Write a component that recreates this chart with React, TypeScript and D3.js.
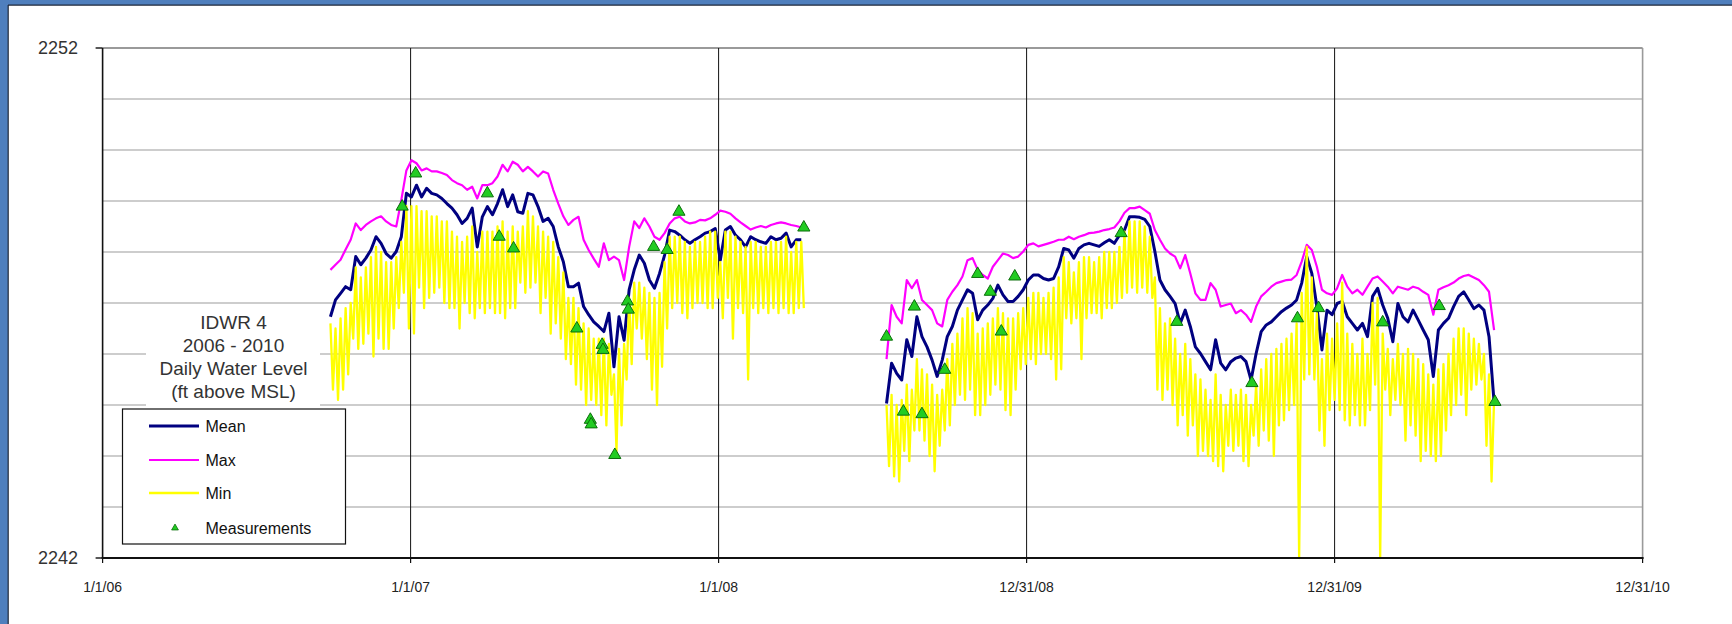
import React from "react";
import * as d3 from "d3";

// daily water level, IDWR 4 (ft above MSL)
// mean/max sampled every 6 days, min every 3 days
const seg1Start = "2006-09-28";
const seg2Start = "2008-07-18";

const meanSeg1 = [
  2246.73, 2247.06, 2247.19, 2247.32, 2247.26, 2247.91, 2247.75, 2247.88, 2248.04, 2248.3,
  2248.17, 2247.97, 2247.88, 2248.01, 2248.3, 2249.15, 2249.08, 2249.31, 2249.08, 2249.25,
  2249.15, 2249.12, 2249.05, 2248.95, 2248.86, 2248.73, 2248.56, 2248.66, 2248.86, 2248.1,
  2248.69, 2248.89, 2248.73, 2248.95, 2249.22, 2248.89, 2249.12, 2248.79, 2248.76, 2249.15,
  2249.12, 2248.89, 2248.6, 2248.66, 2248.5, 2248.1, 2247.81, 2247.32, 2247.32, 2247.39,
  2246.93, 2246.77, 2246.63, 2246.54, 2246.44, 2246.8, 2245.75, 2246.73, 2246.27, 2247.26,
  2247.65, 2247.94, 2247.78, 2247.45, 2247.29, 2247.58, 2247.94, 2248.43, 2248.4, 2248.33,
  2248.24, 2248.17, 2248.24, 2248.3, 2248.37, 2248.4, 2248.46, 2247.84, 2248.43, 2248.5,
  2248.33, 2248.24, 2248.1, 2248.3, 2248.24, 2248.2, 2248.17, 2248.3, 2248.24, 2248.27,
  2248.37, 2248.1, 2248.24, 2248.24,
];

const maxSeg1 = [
  2247.65, 2247.75, 2247.85, 2248.05, 2248.24, 2248.56, 2248.43, 2248.53, 2248.6, 2248.66,
  2248.7, 2248.6, 2248.53, 2248.5, 2249.02, 2249.6, 2249.8, 2249.74, 2249.6, 2249.64,
  2249.58, 2249.58, 2249.55, 2249.51, 2249.41, 2249.35, 2249.31, 2249.22, 2249.28, 2249.05,
  2249.31, 2249.31, 2249.35, 2249.48, 2249.71, 2249.58, 2249.77, 2249.71, 2249.58, 2249.67,
  2249.58, 2249.48, 2249.58, 2249.54, 2249.22, 2248.95, 2248.7, 2248.53, 2248.63, 2248.69,
  2248.24, 2248.04, 2247.87, 2247.71, 2248.17, 2247.84, 2247.91, 2247.84, 2247.45, 2248.1,
  2248.6, 2248.47, 2248.66, 2248.5, 2248.3, 2248.24, 2248.37, 2248.56, 2248.66, 2248.69,
  2248.6, 2248.56, 2248.58, 2248.63, 2248.62, 2248.66, 2248.73, 2248.81, 2248.79, 2248.75,
  2248.66, 2248.58, 2248.51, 2248.44, 2248.48, 2248.51, 2248.48, 2248.53, 2248.56, 2248.58,
  2248.56, 2248.53, 2248.51, 2248.48,
];

const minSeg1 = [
  2246.6, 2245.3, 2246.5, 2245.1, 2246.7, 2245.3, 2246.9, 2245.6, 2247.0, 2246.3,
  2247.7, 2246.1, 2247.5, 2246.2, 2247.7, 2246.4, 2247.9, 2245.95, 2248.1, 2246.3,
  2248.0, 2246.1, 2247.8, 2246.1, 2247.8, 2246.5, 2247.9, 2246.9, 2248.2, 2247.2,
  2248.9, 2246.5, 2248.9, 2246.4, 2248.9, 2247.3, 2248.8, 2246.9, 2248.8, 2247.1,
  2248.7, 2247.2, 2248.7, 2247.3, 2248.6, 2247.0, 2248.6, 2246.9, 2248.4, 2246.9,
  2248.3, 2246.5, 2248.2, 2247.0, 2248.3, 2246.8, 2248.5, 2246.7, 2248.0, 2246.9,
  2248.4, 2246.8, 2248.4, 2246.9, 2248.4, 2246.8, 2248.5, 2246.8, 2248.6, 2246.7,
  2248.4, 2246.9, 2248.5, 2246.9, 2248.4, 2247.4, 2248.5, 2247.2, 2248.8, 2247.3,
  2248.7, 2247.4, 2248.5, 2246.8, 2248.4, 2247.1, 2248.3, 2246.4, 2248.2, 2246.6,
  2247.9, 2246.3, 2247.6, 2245.9, 2247.1, 2245.8, 2247.1, 2245.4, 2246.9, 2245.3,
  2246.6, 2245.0, 2246.5, 2245.1, 2246.3, 2245.0, 2246.3, 2244.8, 2246.3, 2244.6,
  2246.2, 2245.2, 2245.6, 2244.1, 2246.1, 2244.6, 2246.2, 2245.5, 2247.1, 2245.8,
  2247.4, 2246.5, 2247.4, 2246.3, 2247.3, 2245.9, 2247.2, 2245.3, 2247.1, 2245.0,
  2247.2, 2245.75, 2247.8, 2246.5, 2248.3, 2246.9, 2248.3, 2247.0, 2248.3, 2246.8,
  2248.2, 2246.7, 2248.1, 2246.9, 2248.2, 2247.0, 2248.2, 2247.0, 2248.3, 2246.9,
  2248.4, 2246.9, 2248.4, 2247.1, 2247.8, 2246.7, 2248.4, 2247.1, 2248.4, 2246.3,
  2248.3, 2246.9, 2248.2, 2246.8, 2248.1, 2245.5, 2248.2, 2246.9, 2248.2, 2246.8,
  2248.1, 2246.9, 2248.1, 2246.8, 2248.2, 2246.9, 2248.2, 2246.8, 2248.2, 2246.9,
  2248.3, 2246.8, 2248.0, 2246.8, 2248.2, 2246.9, 2248.2, 2246.9,
];

const meanSeg2 = [
  2245.03, 2245.82, 2245.62, 2245.49, 2246.28, 2245.95, 2246.73, 2246.34, 2246.14, 2245.88,
  2245.56, 2245.88, 2246.34, 2246.54, 2246.86, 2247.06, 2247.26, 2247.19, 2246.67, 2246.86,
  2246.96, 2247.09, 2247.35, 2247.16, 2247.03, 2247.03, 2247.13, 2247.26, 2247.45, 2247.55,
  2247.55, 2247.48, 2247.45, 2247.48, 2247.71, 2248.07, 2248.04, 2247.88, 2248.07, 2248.14,
  2248.17, 2248.14, 2248.11, 2248.18, 2248.24, 2248.17, 2248.33, 2248.43, 2248.69, 2248.69,
  2248.68, 2248.64, 2248.5, 2248.01, 2247.45, 2247.26, 2247.13, 2246.99, 2246.6, 2246.86,
  2246.54, 2246.14, 2246.01, 2245.85, 2245.69, 2246.28, 2245.82, 2245.69, 2245.85, 2245.92,
  2245.95, 2245.85, 2245.49, 2246.01, 2246.44, 2246.57, 2246.63, 2246.73, 2246.83, 2246.9,
  2246.96, 2247.06, 2247.39, 2247.91, 2247.58, 2246.93, 2246.08, 2246.86, 2246.77, 2246.99,
  2247.03, 2246.73, 2246.6, 2246.47, 2246.6, 2246.34, 2247.13, 2247.29, 2246.96, 2246.7,
  2246.24, 2246.99, 2246.73, 2246.63, 2246.86, 2246.67, 2246.47, 2246.28, 2245.56, 2246.47,
  2246.6, 2246.7, 2246.93, 2247.13, 2247.22, 2247.06, 2246.89, 2246.96, 2246.86, 2246.34,
  2245.05,
];

const maxSeg2 = [
  2245.9, 2246.96, 2246.73, 2246.6, 2247.45, 2247.29, 2247.45, 2247.06, 2246.96, 2246.86,
  2246.6, 2246.54, 2247.06, 2247.22, 2247.35, 2247.52, 2247.84, 2247.88, 2247.65, 2247.55,
  2247.48, 2247.71, 2247.84, 2247.97, 2247.94, 2247.88, 2247.91, 2248.01, 2248.14, 2248.17,
  2248.11, 2248.14, 2248.17, 2248.2, 2248.24, 2248.24, 2248.3, 2248.25, 2248.3, 2248.33,
  2248.37, 2248.38, 2248.4, 2248.43, 2248.45, 2248.48, 2248.6, 2248.77, 2248.86, 2248.86,
  2248.89, 2248.82, 2248.75, 2248.43, 2248.24, 2248.07, 2247.97, 2247.91, 2247.68, 2247.94,
  2247.58, 2247.19, 2247.06, 2247.06, 2247.39, 2247.26, 2246.93, 2246.96, 2246.99, 2246.8,
  2246.86, 2246.77, 2246.63, 2246.93, 2247.13, 2247.22, 2247.32, 2247.39, 2247.42, 2247.45,
  2247.46, 2247.55, 2247.81, 2248.14, 2248.04, 2247.71, 2247.26, 2247.19, 2247.16, 2247.29,
  2247.55, 2247.32, 2247.19, 2247.26, 2247.16, 2247.32, 2247.48, 2247.52, 2247.42, 2247.32,
  2247.19, 2247.32, 2247.29, 2247.26, 2247.32, 2247.29, 2247.22, 2247.16, 2246.77, 2247.26,
  2247.31, 2247.35, 2247.4, 2247.48, 2247.53, 2247.55, 2247.5, 2247.45, 2247.35, 2247.22,
  2246.47,
];

const minSeg2 = [
  2245.0, 2243.8, 2245.2, 2243.6, 2245.0, 2243.5, 2245.1, 2244.1, 2245.4, 2243.9,
  2245.3, 2244.5, 2245.9, 2244.5, 2245.7, 2244.3, 2245.6, 2244.0, 2245.4, 2243.7,
  2245.2, 2244.2, 2245.3, 2244.5, 2245.9, 2244.6, 2246.2, 2245.0, 2246.4, 2245.2,
  2246.7, 2245.1, 2246.9, 2245.3, 2246.8, 2244.8, 2246.4, 2244.8, 2246.5, 2245.0,
  2246.6, 2245.2, 2246.7, 2245.4, 2246.9, 2245.3, 2246.8, 2244.9, 2246.7, 2244.8,
  2246.7, 2245.3, 2246.8, 2245.7, 2246.9, 2245.8, 2247.1, 2245.9, 2247.2, 2245.8,
  2247.2, 2246.0, 2247.1, 2246.0, 2247.2, 2245.9, 2247.3, 2245.5, 2247.5, 2245.7,
  2247.9, 2246.7, 2247.8, 2246.6, 2247.6, 2246.7, 2247.8, 2245.9, 2247.9, 2246.7,
  2247.9, 2246.8, 2247.8, 2246.8, 2247.9, 2246.7, 2248.0, 2246.9, 2248.0, 2246.9,
  2248.0, 2247.0, 2248.1, 2247.1, 2248.4, 2247.2, 2248.6, 2247.3, 2248.6, 2247.2,
  2248.6, 2247.3, 2248.5, 2247.2, 2248.3, 2247.1, 2247.5, 2245.3, 2246.9, 2245.1,
  2246.6, 2245.3, 2246.7, 2245.0, 2246.3, 2244.6, 2246.0, 2244.8, 2246.2, 2244.4,
  2245.9, 2244.6, 2245.6, 2244.0, 2245.5, 2244.1, 2245.3, 2244.0, 2245.1, 2243.9,
  2245.6, 2243.8, 2245.2, 2243.7, 2245.0, 2244.2, 2245.3, 2244.1, 2245.2, 2244.2,
  2245.3, 2243.9, 2245.2, 2243.8, 2245.0, 2244.4, 2245.4, 2244.2, 2245.7, 2244.5,
  2245.9, 2244.3, 2246.0, 2244.0, 2246.1, 2244.6, 2246.2, 2244.7, 2246.3, 2244.9,
  2246.4, 2245.0, 2246.6, 2242.0, 2247.2, 2245.5, 2248.1, 2245.6, 2247.5, 2245.5,
  2246.8, 2244.5, 2245.9, 2244.2, 2246.4, 2244.9, 2246.3, 2245.1, 2246.6, 2244.9,
  2247.4, 2244.7, 2246.4, 2244.6, 2246.2, 2244.8, 2246.0, 2244.6, 2246.3, 2244.6,
  2246.0, 2244.9, 2247.0, 2245.4, 2247.1, 2242.0, 2246.4, 2245.3, 2246.1, 2244.8,
  2245.9, 2245.1, 2246.2, 2245.0, 2246.0, 2244.3, 2246.1, 2244.6, 2246.0, 2244.4,
  2245.9, 2243.9, 2245.8, 2244.1, 2245.6, 2244.0, 2245.4, 2243.9, 2245.7, 2244.0,
  2245.8, 2244.5, 2246.0, 2244.8, 2246.3, 2245.0, 2246.5, 2245.2, 2246.5, 2244.8,
  2246.4, 2245.3, 2246.3, 2245.4, 2246.2, 2245.5, 2246.0, 2244.2, 2245.6, 2243.5,
  2245.1,
];

const measurementDates = [
  "2006-12-22", "2007-01-07", "2007-04-02", "2007-04-16", "2007-05-03", "2007-07-17",
  "2007-08-02", "2007-08-03", "2007-08-16", "2007-08-17", "2007-08-31", "2007-09-15",
  "2007-09-16", "2007-10-16", "2007-11-01", "2007-11-15", "2008-04-11", "2008-07-18",
  "2008-08-07", "2008-08-20", "2008-08-29", "2008-09-25", "2008-11-03", "2008-11-18",
  "2008-12-01", "2008-12-17", "2009-04-22", "2009-06-27", "2009-09-24", "2009-11-17",
  "2009-12-12", "2010-02-26", "2010-05-04", "2010-07-09",
];
const measurementValues = [
  2248.89, 2249.54, 2249.15, 2248.3, 2248.07, 2246.5,
  2244.71, 2244.62, 2246.18, 2246.08, 2244.02, 2247.03,
  2246.87, 2248.1, 2248.04, 2248.79, 2248.48, 2246.34,
  2244.87, 2246.93, 2244.82, 2245.69, 2247.57, 2247.22,
  2246.44, 2247.52, 2248.37, 2246.63, 2245.43, 2246.7,
  2246.9, 2246.62, 2246.94, 2245.06,
];

const tickDates = ["2006-01-01", "2007-01-01", "2008-01-01", "2008-12-31", "2009-12-31", "2010-12-31"];
const tickLabels = ["1/1/06", "1/1/07", "1/1/08", "12/31/08", "12/31/09", "12/31/10"];
const yTickValues = [2242, 2252];
const titleLines = ["IDWR 4", "2006 - 2010", "Daily Water Level", "(ft above MSL)"];
const legendNames = ["Mean", "Max", "Min", "Measurements"];

const W = 1732;
const H = 624;
const FONT = "Arial, 'Liberation Sans', sans-serif";
const parse = d3.utcParse("%Y-%m-%d");

type Pt = [Date, number];

function toPoints(start: string, step: number, vals: number[]): Pt[] {
  const s = parse(start)!;
  return vals.map((v, i) => [d3.utcDay.offset(s, i * step), v] as Pt);
}

const App: React.FC = () => {
  const plot = { left: 102.6, right: 1642.6, top: 48, bottom: 558 };

  const x = d3
    .scaleUtc()
    .domain([parse(tickDates[0])!, parse(tickDates[tickDates.length - 1])!])
    .range([plot.left, plot.right]);
  const y = d3.scaleLinear().domain([2242, 2252]).range([plot.bottom, plot.top]);

  const line = d3
    .line<Pt>()
    .x((d) => x(d[0]))
    .y((d) => y(d[1]));

  const series = [
    { name: "Mean", color: "#000080", width: 3, segs: [toPoints(seg1Start, 6, meanSeg1), toPoints(seg2Start, 6, meanSeg2)] },
    { name: "Max", color: "#ff00ff", width: 2.2, segs: [toPoints(seg1Start, 6, maxSeg1), toPoints(seg2Start, 6, maxSeg2)] },
    { name: "Min", color: "#ffff00", width: 2.3, segs: [toPoints(seg1Start, 3, minSeg1), toPoints(seg2Start, 3, minSeg2)] },
  ];

  const tri = d3.symbol(d3.symbolTriangle, 64)()!;
  const triSmall = d3.symbol(d3.symbolTriangle, 20)()!;
  const minorTicks = d3.range(2243, 2252);

  const legend = { x: 122.5, y: 409, w: 223, h: 135 };
  const legendRows = [426, 460, 493, 528];

  return (
    <div>
      <style>{"body{margin:0;}"}</style>
      <svg width={W} height={H} style={{ display: "block", background: "#fff" }}>
        {/* frame */}
        <rect x={0} y={0} width={W} height={5} fill="#4f7fbd" />
        <rect x={0} y={0} width={8} height={H} fill="#4f7fbd" />
        <line x1={8} x2={W} y1={5.2} y2={5.2} stroke="#1c2638" strokeWidth={1.2} />
        <line x1={8.2} x2={8.2} y1={5} y2={H} stroke="#1c2638" strokeWidth={1.2} />

        {/* horizontal gridlines */}
        {minorTicks.map((v) => (
          <line key={v} x1={plot.left} x2={plot.right} y1={y(v)} y2={y(v)} stroke="#bcbcbc" strokeWidth={1.4} />
        ))}
        <line x1={plot.left} x2={plot.right} y1={y(2252)} y2={y(2252)} stroke="#9a9a9a" strokeWidth={1.8} />
        <line x1={plot.right} x2={plot.right} y1={plot.top} y2={plot.bottom} stroke="#9a9a9a" strokeWidth={1.6} />

        {/* vertical year lines */}
        {tickDates.slice(1, -1).map((d) => (
          <line key={d} x1={x(parse(d)!)} x2={x(parse(d)!)} y1={plot.top} y2={plot.bottom} stroke="#111" strokeWidth={1} />
        ))}

        {/* title box */}
        <rect x={146} y={307} width={174} height={100} fill="#fff" />
        {titleLines.map((t, i) => (
          <text
            key={t}
            x={233.5}
            y={322 + i * 23.3}
            textAnchor="middle"
            dominantBaseline="central"
            fontFamily={FONT}
            fontSize={19}
            fill="#333"
          >
            {t}
          </text>
        ))}

        {/* series */}
        {series.map((s) =>
          s.segs.map((seg, i) => (
            <path
              key={s.name + i}
              d={line(seg)!}
              fill="none"
              stroke={s.color}
              strokeWidth={s.width}
              strokeLinejoin="round"
            />
          ))
        )}

        {/* measurements */}
        {measurementDates.map((d, i) => (
          <path
            key={d + i}
            d={tri}
            transform={`translate(${x(parse(d)!)},${y(measurementValues[i])})`}
            fill="#22cc22"
            stroke="#0b6e0b"
            strokeWidth={1}
          />
        ))}

        {/* axes */}
        <line x1={plot.left} x2={plot.left} y1={plot.top} y2={plot.bottom} stroke="#111" strokeWidth={1.6} />
        <line x1={plot.left - 1} x2={plot.right + 1} y1={plot.bottom} y2={plot.bottom} stroke="#111" strokeWidth={2.2} />
        {tickDates.map((d, i) => {
          const px = x(parse(d)!);
          return (
            <g key={d}>
              <line x1={px} x2={px} y1={plot.bottom} y2={plot.bottom + 5} stroke="#111" strokeWidth={1.2} />
              <text
                x={px}
                y={587}
                textAnchor="middle"
                dominantBaseline="central"
                fontFamily={FONT}
                fontSize={14}
                fill="#222"
              >
                {tickLabels[i]}
              </text>
            </g>
          );
        })}
        {yTickValues.map((v) => (
          <g key={v}>
            <line x1={plot.left - 7} x2={plot.left} y1={y(v)} y2={y(v)} stroke="#111" strokeWidth={1.4} />
            <text
              x={78}
              y={y(v)}
              textAnchor="end"
              dominantBaseline="central"
              fontFamily={FONT}
              fontSize={18}
              fill="#333"
            >
              {v}
            </text>
          </g>
        ))}

        {/* legend */}
        <rect x={legend.x} y={legend.y} width={legend.w} height={legend.h} fill="#fff" stroke="#111" strokeWidth={1.2} />
        {legendNames.map((name, i) => (
          <g key={name}>
            {i < 3 ? (
              <line
                x1={149}
                x2={199}
                y1={legendRows[i]}
                y2={legendRows[i]}
                stroke={series[i].color}
                strokeWidth={series[i].width}
              />
            ) : (
              <path d={triSmall} transform={`translate(175,${legendRows[i]})`} fill="#22cc22" stroke="#0b6e0b" strokeWidth={0.8} />
            )}
            <text
              x={205.5}
              y={legendRows[i]}
              dominantBaseline="central"
              fontFamily={FONT}
              fontSize={16}
              fill="#111"
            >
              {name}
            </text>
          </g>
        ))}
      </svg>
    </div>
  );
};

export default App;
